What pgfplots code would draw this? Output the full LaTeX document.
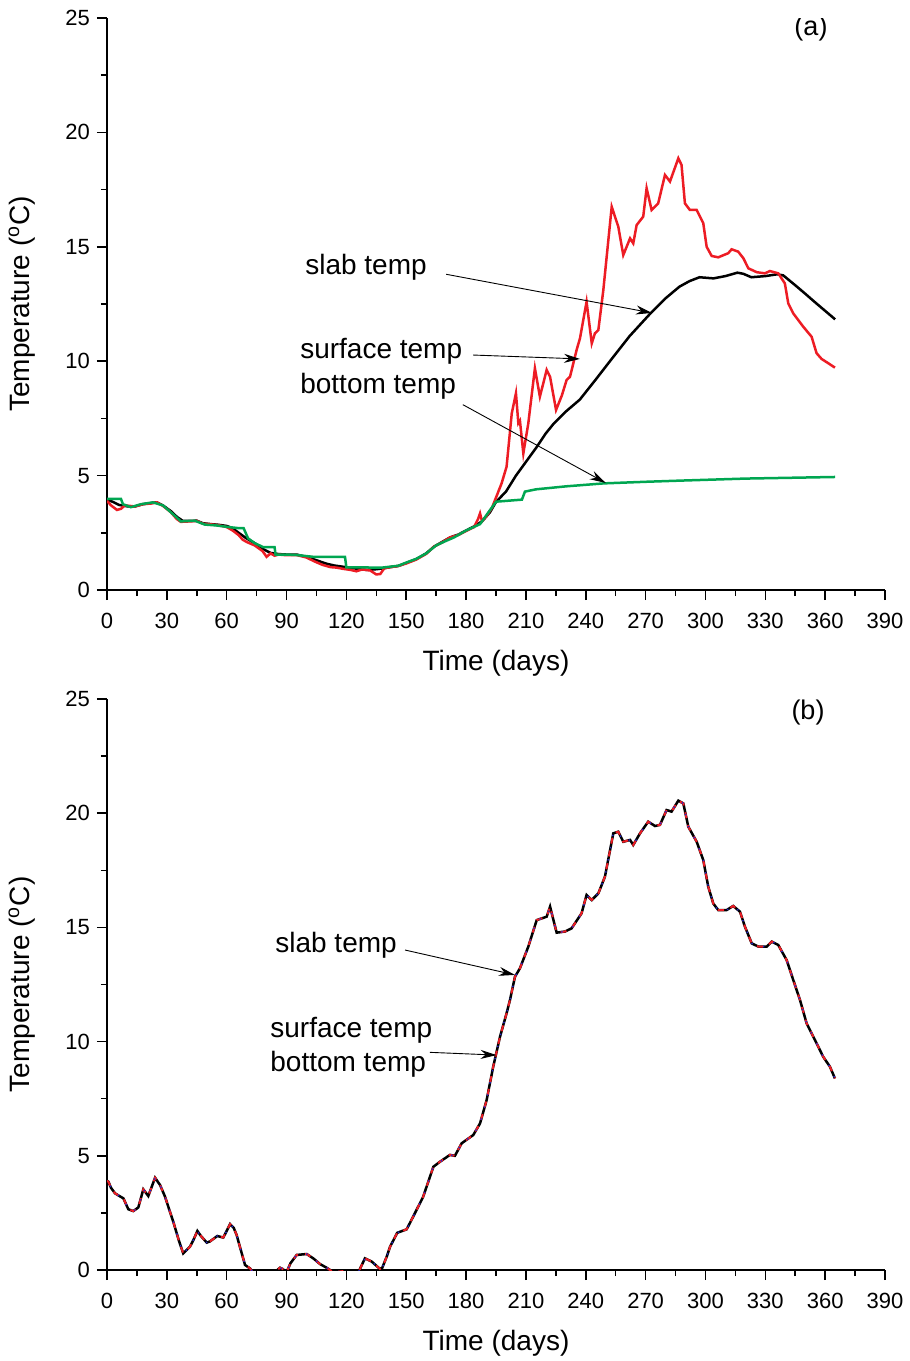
\documentclass[border=0pt]{standalone}
\usepackage{fontspec}
\setmainfont{Liberation Sans}
\usepackage{pgfplots}
\pgfplotsset{compat=1.18}
\usepackage{pgfplotstable}
\usetikzlibrary{arrows.meta}

\definecolor{surfred}{RGB}{237,28,36}
\definecolor{botgreen}{RGB}{0,166,81}
\definecolor{dotblue}{RGB}{40,40,200}

\tikzset{
  annot/.style={font=\fontsize{14bp}{17bp}\selectfont, anchor=base west, inner sep=0pt},
  pointer/.style={line width=0.45bp, -{Stealth[length=8bp, width=4.5bp]}},
}

% (a) slab temperature
\pgfplotstableread{
day T
0 3.95
3 3.85
6 3.72
10 3.66
14 3.65
18 3.75
22 3.8
25 3.83
28 3.7
32 3.45
35 3.2
38 3.02
42 3.02
45 3.03
48 2.92
52 2.88
56 2.85
60 2.8
63 2.7
66 2.5
70 2.25
74 2.05
78 1.8
82 1.62
86 1.57
90 1.55
95 1.55
100 1.45
105 1.3
110 1.15
114 1.07
118 1.02
122 0.97
126 0.92
130 0.88
134 0.9
138 0.94
142 1.0
146 1.05
150 1.18
155 1.35
160 1.6
164 1.9
168 2.1
172 2.3
176 2.42
180 2.6
184 2.78
188 3.0
192 3.4
195 3.85
200 4.3
205 5.0
210 5.6
215 6.2
220 6.85
224 7.28
230 7.8
237 8.32
245 9.2
253 10.1
262 11.1
272 12.05
280 12.75
287 13.26
292 13.5
297 13.67
304 13.62
310 13.72
316 13.87
319 13.82
323 13.67
330 13.72
336 13.8
339 13.75
345 13.32
350 12.95
355 12.57
360 12.2
365 11.83
}\slabA

% (a) surface temperature
\pgfplotstableread{
day T
0 3.9
2 3.7
5 3.5
7 3.55
9 3.7
14 3.65
18 3.75
22 3.78
25 3.83
28 3.68
32 3.4
35 3.1
37 2.98
42 3.0
45 3.02
48 2.9
52 2.87
56 2.83
60 2.75
63 2.6
66 2.4
68 2.2
70 2.1
74 1.95
78 1.7
80 1.45
82 1.6
84 1.5
86 1.55
90 1.52
95 1.53
100 1.42
104 1.25
108 1.1
112 1.0
115 0.98
118 0.93
122 0.88
125 0.82
128 0.9
132 0.85
135 0.68
137 0.7
139 0.95
142 1.0
146 1.05
150 1.16
155 1.33
160 1.58
164 1.9
168 2.08
172 2.3
176 2.4
180 2.58
184 2.75
186 3.1
187 3.35
188 3.0
190 3.2
193 3.6
194.5 3.93
197.8 4.66
200.3 5.39
202.9 7.72
205 8.6
206.2 7.29
207 7.4
208.7 5.97
211.2 7.29
214.5 9.69
217 8.45
220.4 9.62
222.1 9.32
225.1 7.87
228 8.5
230.4 9.18
232.1 9.32
235.4 10.49
237.1 11.0
240.4 12.6
243 10.78
244.6 11.22
246.3 11.36
248.8 13.11
253 16.75
256.3 15.88
258.8 14.64
262.2 15.37
263.8 15.15
265.5 15.95
268.8 16.32
270.5 17.56
273 16.61
276.3 16.9
279.7 18.14
282.2 17.85
286.4 18.87
288 18.58
289.7 16.9
292.2 16.61
295.6 16.61
298.9 16.03
300.6 15.0
303.1 14.6
306.4 14.54
311.4 14.72
313.1 14.89
316.4 14.79
319 14.5
321.5 14.06
325.7 13.89
329.8 13.84
332.3 13.94
336.5 13.84
339.8 13.4
341.5 12.53
344 12.09
349 11.51
353.2 11.07
355.7 10.35
358.2 10.1
360.7 9.96
364.9 9.72
}\surfA

% (a) bottom temperature
\pgfplotstableread{
day T
0 3.98
7 3.98
8 3.75
12 3.62
17 3.75
23 3.83
28 3.7
32 3.4
37 3.0
44 3.03
49 2.86
55 2.82
61 2.75
66.5 2.7
68.5 2.7
70.7 2.26
74 2.05
78.4 1.87
84 1.87
84.5 1.55
90 1.55
95 1.53
103.4 1.45
119.3 1.45
120 0.99
138 0.98
142 1.02
146 1.06
150 1.2
155 1.36
160 1.6
165 1.95
170 2.15
174 2.3
180 2.6
187 2.88
195 3.86
208 3.95
209.5 4.3
215 4.4
230 4.53
249 4.66
270 4.73
287 4.78
320 4.87
365 4.94
}\botA

% (b) temperatures (the three coincide)
\pgfplotstableread{
day T
0 3.9
0.7 3.87
2 3.6
4 3.36
6 3.25
8.2 3.14
10.7 2.66
13.2 2.58
15.7 2.74
18.2 3.53
20.7 3.24
24.1 4.04
26.6 3.72
29.1 3.21
31 2.7
33.2 2.12
36 1.3
38.2 0.73
41.6 1.02
43.5 1.35
45.3 1.71
47 1.5
50 1.2
51.6 1.25
55.3 1.49
58.3 1.42
61.7 2.01
63.5 1.85
65 1.53
67 0.9
69.2 0.22
71.7 0.07
75 -0.3
80 -0.4
84 -0.1
86.7 0.1
88 0.05
90 -0.1
92 0.3
95.1 0.66
100.1 0.7
103.4 0.51
106.8 0.26
110.1 0.1
113.5 -0.1
118 -0.05
122 -0.3
126 -0.1
129.3 0.51
132.7 0.37
136.8 0.05
138 0.1
140.2 0.58
141.9 1.02
145.5 1.63
150.2 1.78
153.5 2.34
158.5 3.21
163.6 4.52
166.9 4.74
171.9 5.04
174.4 5.0
177.8 5.55
183.6 5.91
187 6.42
190.3 7.44
193.6 8.9
197 10.21
200.3 11.24
202 11.82
204.5 12.84
207 13.21
211.2 14.16
215.4 15.32
220.4 15.47
222.1 15.91
225.4 14.77
229.6 14.82
232.9 14.96
237.9 15.62
240.4 16.42
243 16.2
246.3 16.49
249.6 17.22
253.8 19.12
256.3 19.19
258.8 18.75
262.2 18.83
263.8 18.61
267.2 19.12
271.3 19.63
274.7 19.44
277.2 19.49
280.5 20.14
283 20.07
286.4 20.55
288.9 20.43
291.4 19.41
295.6 18.75
298.9 17.95
301.4 16.78
303.9 16.05
306.4 15.76
310.6 15.76
313.9 15.94
317.3 15.69
319.8 15.03
323.2 14.3
326.5 14.16
330.7 14.16
333.2 14.38
336.5 14.23
340.7 13.57
344 12.7
347.4 11.82
350.7 10.8
354.9 10.07
359 9.34
362.4 8.9
364.9 8.39
}\allB

\pgfplotsset{
  tempaxis/.style={
    width=389bp, scale only axis,
    xmin=0, xmax=390, ymin=0, ymax=25,
    axis x line*=bottom, axis y line*=left,
    axis line style={-, line width=0.75bp},
    xtick={0,30,...,390}, ytick={0,5,...,25},
    minor x tick num=1, minor y tick num=1,
    tick align=outside,
    major tick length=5bp, minor tick length=3bp,
    every tick/.style={line width=0.75bp, black},
    /pgf/number format/assume math mode=true,
    ticklabel style={font=\fontsize{11bp}{13bp}\selectfont},
    xticklabel style={yshift=-3bp},
    label style={font=\fontsize{14bp}{17bp}\selectfont},
    xlabel={Time (days)},
    ylabel={Temperature (\textsuperscript{o}C)},
    xlabel style={at={(axis description cs:0.5,0)}, anchor=center, yshift=-36.5bp},
    ylabel style={at={(axis description cs:0,0.5)}, anchor=center, yshift=42.5bp},
  },
}

\begin{document}
\begin{tikzpicture}
% (a)
\begin{axis}[tempaxis, height=286bp, at={(53.5bp,-295bp)}, anchor=south west]
  \addplot[no marks, line width=1.25bp, black] table[x=day, y=T] {\slabA};
  \addplot[no marks, line width=1.25bp, surfred] table[x=day, y=T] {\surfA};
  \addplot[no marks, line width=1.25bp, botgreen] table[x=day, y=T] {\botA};
  \node[annot] at (axis cs:99.2,13.77) {slab temp};
  \node[annot] at (axis cs:96.7,10.1) {surface temp};
  \node[annot] at (axis cs:96.7,8.57) {bottom temp};
  \draw[pointer] (axis cs:170,13.8) -- (axis cs:273.2,12.11);
  \draw[pointer] (axis cs:183.5,10.27) -- (axis cs:237.1,10.1);
  \draw[pointer] (axis cs:178.4,8.1) -- (axis cs:250,4.68);
  \node[font=\fontsize{13.5bp}{16bp}\selectfont] at (axis cs:352.9,24.55) {(a)};
\end{axis}
% (b)
\begin{axis}[tempaxis, height=285.5bp, at={(53.5bp,-635bp)}, anchor=south west]
  \addplot[no marks, line width=1.25bp, black] table[x=day, y=T] {\allB};
  \addplot[no marks, line width=1bp, surfred, dash pattern=on 3bp off 3.5bp] table[x=day, y=T] {\allB};
  \addplot[no marks, line width=0.7bp, dotblue, dash pattern=on 0.7bp off 5.5bp, dash phase=3.2bp] table[x=day, y=T] {\allB};
  \node[annot] at (axis cs:84.2,13.92) {slab temp};
  \node[annot] at (axis cs:81.7,10.16) {surface temp};
  \node[annot] at (axis cs:81.7,8.71) {bottom temp};
  \draw[pointer] (axis cs:149.4,14.01) -- (axis cs:204.5,12.92);
  \draw[pointer] (axis cs:161.9,9.53) -- (axis cs:195.3,9.41);
  \node[font=\fontsize{13.5bp}{16bp}\selectfont] at (axis cs:351.4,24.43) {(b)};
\end{axis}
\pgfresetboundingbox
\useasboundingbox (0,0) rectangle (455bp,-680.5bp);
\end{tikzpicture}
\end{document}
